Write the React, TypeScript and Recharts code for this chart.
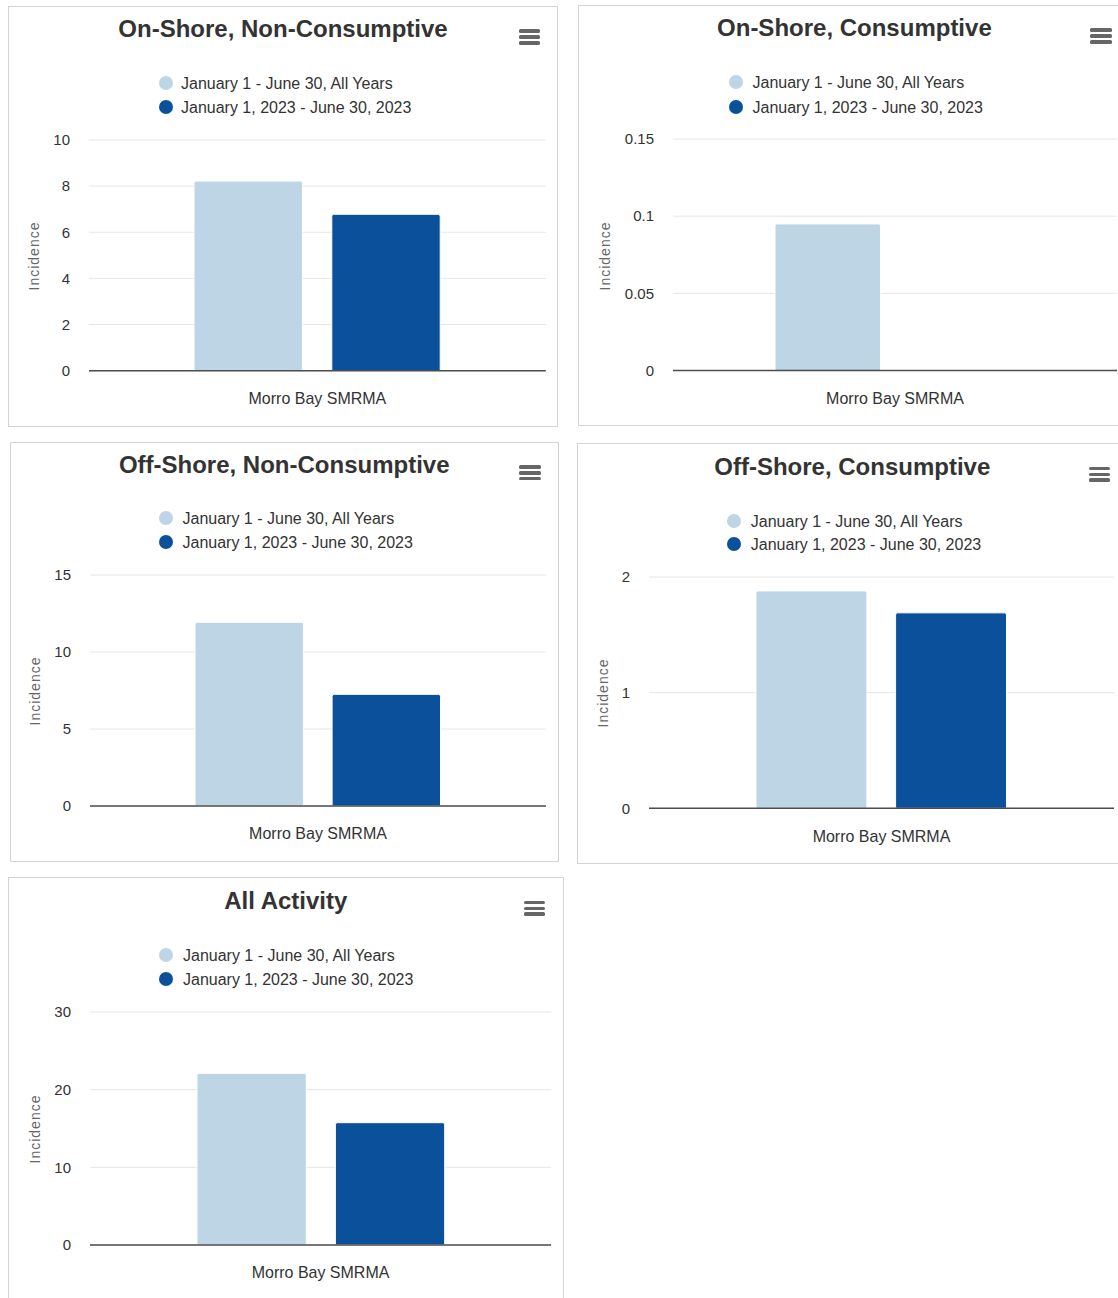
import React from 'react';
import { BarChart, Bar, XAxis, YAxis, CartesianGrid } from 'recharts';

// ---------- data ----------
const categories = ['Morro Bay SMRMA'];
const seriesNames = ['January 1 - June 30, All Years', 'January 1, 2023 - June 30, 2023'];

const titles = [
  'On-Shore, Non-Consumptive',
  'On-Shore, Consumptive',
  'Off-Shore, Non-Consumptive',
  'Off-Shore, Consumptive',
  'All Activity',
];

const onShoreNonConsAllYears = [8.22];
const onShoreNonCons2023 = [6.78];
const onShoreConsAllYears = [0.095];
const onShoreCons2023 = [0];
const offShoreNonConsAllYears = [11.93];
const offShoreNonCons2023 = [7.25];
const offShoreConsAllYears = [1.88];
const offShoreCons2023 = [1.69];
const allActivityAllYears = [22.1];
const allActivity2023 = [15.75];

const ticksOnShoreNonCons = [0, 2, 4, 6, 8, 10];
const ticksOnShoreCons = [0, 0.05, 0.1, 0.15];
const ticksOffShoreNonCons = [0, 5, 10, 15];
const ticksOffShoreCons = [0, 1, 2];
const ticksAllActivity = [0, 10, 20, 30];

const yAxisTitle = 'Incidence';

// ---------- styles / layout ----------
const FONT = '"Liberation Sans", Arial, Helvetica, sans-serif';
const LIGHT = '#BED5E5';
const DARK = '#0A509B';

type Layout = {
  box: { l: number; t: number; r: number; b: number };
  plot: { l: number; t: number; r: number; b: number };
  titleCx: number;
  titleBase: number;
  menu: { x: number; y: number };
  legend: { cx: number; y1: number; y2: number; tx: number };
  axisTitle: { x: number; y: number };
  barSize: number;
  barGap: number;
};

const layouts: Layout[] = [
  {
    box: { l: 8, t: 5.5, r: 558, b: 427 },
    plot: { l: 88.6, t: 140, r: 545.4, b: 370.7 },
    titleCx: 283, titleBase: 37.5,
    menu: { x: 518.6, y: 29.3 },
    legend: { cx: 165.5, y1: 83.3, y2: 107.3, tx: 181 },
    axisTitle: { x: 34, y: 256 },
    barSize: 108.4, barGap: 29.4,
  },
  {
    box: { l: 577.7, t: 4.7, r: 1130, b: 426 },
    plot: { l: 673, t: 138.5, r: 1117, b: 370 },
    titleCx: 854.4, titleBase: 36.7,
    menu: { x: 1090, y: 28.3 },
    legend: { cx: 735.7, y1: 82.3, y2: 106.5, tx: 752.5 },
    axisTitle: { x: 605, y: 255.7 },
    barSize: 105.6, barGap: 28,
  },
  {
    box: { l: 9.8, t: 441.7, r: 559.3, b: 862.3 },
    plot: { l: 90.2, t: 575, r: 546.2, b: 806 },
    titleCx: 284.2, titleBase: 473.3,
    menu: { x: 519.3, y: 465 },
    legend: { cx: 166.2, y1: 518.3, y2: 542.3, tx: 182.5 },
    axisTitle: { x: 35.3, y: 691.3 },
    barSize: 108.4, barGap: 28.7,
  },
  {
    box: { l: 577, t: 443.3, r: 1130, b: 864.3 },
    plot: { l: 649.4, t: 576.7, r: 1114.4, b: 808 },
    titleCx: 852.3, titleBase: 475,
    menu: { x: 1088.5, y: 466.7 },
    legend: { cx: 733.8, y1: 520.7, y2: 544.3, tx: 750.8 },
    axisTitle: { x: 603.2, y: 693.3 },
    barSize: 110.9, barGap: 28.7,
  },
  {
    box: { l: 8, t: 877.3, r: 563.6, b: 1320 },
    plot: { l: 89.8, t: 1012, r: 550.9, b: 1245 },
    titleCx: 285.8, titleBase: 909.3,
    menu: { x: 523.6, y: 900.7 },
    legend: { cx: 166.4, y1: 955, y2: 979, tx: 183 },
    axisTitle: { x: 34.9, y: 1129.3 },
    barSize: 109.3, barGap: 29.1,
  },
];

const panelSeries: [number[], number[]][] = [
  [onShoreNonConsAllYears, onShoreNonCons2023],
  [onShoreConsAllYears, onShoreCons2023],
  [offShoreNonConsAllYears, offShoreNonCons2023],
  [offShoreConsAllYears, offShoreCons2023],
  [allActivityAllYears, allActivity2023],
];
const panelTicks = [ticksOnShoreNonCons, ticksOnShoreCons, ticksOffShoreNonCons, ticksOffShoreCons, ticksAllActivity];

function textTop(baseline: number, fs: number) {
  return baseline - 0.8465 * fs;
}

function Panel({ idx }: { idx: number }) {
  const L = layouts[idx];
  const [a, b] = panelSeries[idx];
  const ticks = panelTicks[idx];
  const data = categories.map((c, i) => ({ name: c, allYears: a[i], y2023: b[i] }));
  const padL = 80;
  const padT = 20;
  const padR = 10;
  const xH = 50;
  const plotW = L.plot.r - L.plot.l;
  const plotH = L.plot.b - L.plot.t;
  const chartW = plotW + padL + padR;
  const chartH = plotH + padT + xH;
  const legendItems = [
    { name: seriesNames[0], color: LIGHT, y: L.legend.y1 },
    { name: seriesNames[1], color: DARK, y: L.legend.y2 },
  ];
  return (
    <>
      <div
        style={{
          position: 'absolute',
          left: L.box.l,
          top: L.box.t,
          width: L.box.r - L.box.l,
          height: L.box.b - L.box.t,
          border: '1px solid #d4d4d4',
          boxSizing: 'border-box',
          background: '#fff',
        }}
      />
      <div
        style={{
          position: 'absolute',
          left: L.titleCx - 300,
          width: 600,
          top: textTop(L.titleBase, 24),
          fontSize: 24,
          lineHeight: '24px',
          fontWeight: 700,
          color: '#333333',
          textAlign: 'center',
          fontFamily: FONT,
          whiteSpace: 'nowrap',
        }}
      >
        {titles[idx]}
      </div>
      {[0, 5.8, 11.6].map((dy) => (
        <div
          key={dy}
          style={{
            position: 'absolute',
            left: L.menu.x,
            top: L.menu.y + dy,
            width: 21.5,
            height: 3.8,
            borderRadius: 1.5,
            background: '#666666',
          }}
        />
      ))}
      {legendItems.map((it) => (
        <React.Fragment key={it.name}>
          <div
            style={{
              position: 'absolute',
              left: L.legend.cx - 7,
              top: it.y - 7,
              width: 14,
              height: 14,
              borderRadius: '50%',
              background: it.color,
            }}
          />
          <div
            style={{
              position: 'absolute',
              left: L.legend.tx,
              top: textTop(it.y + 6.6, 16),
              fontSize: 16,
              lineHeight: '16px',
              color: '#333333',
              fontFamily: FONT,
              whiteSpace: 'nowrap',
            }}
          >
            {it.name}
          </div>
        </React.Fragment>
      ))}
      <div
        style={{
          position: 'absolute',
          left: L.axisTitle.x - 60,
          top: L.axisTitle.y - 8,
          width: 120,
          height: 16,
          lineHeight: '16px',
          fontSize: 14,
          letterSpacing: 1,
          color: '#666666',
          textAlign: 'center',
          fontFamily: FONT,
          transform: 'rotate(-90deg)',
          whiteSpace: 'nowrap',
        }}
      >
        {yAxisTitle}
      </div>
      <div style={{ position: 'absolute', left: L.plot.l - padL, top: L.plot.t - padT }}>
        <BarChart
          width={chartW}
          height={chartH}
          data={data}
          margin={{ top: padT, right: padR, bottom: 0, left: 0 }}
          barGap={L.barGap}
          barSize={L.barSize}
        >
          <CartesianGrid horizontal vertical={false} stroke="#e6e6e6" strokeWidth={1} />
          <XAxis
            dataKey="name"
            height={xH}
            tickLine={false}
            tickSize={0}
            tickMargin={22}
            axisLine={{ stroke: '#4d4d4d', strokeWidth: 1.5 }}
            tick={{ fill: '#333333', fontSize: 16, fontFamily: FONT }}
          />
          <YAxis
            width={padL}
            domain={[ticks[0], ticks[ticks.length - 1]]}
            ticks={ticks}
            interval={0}
            axisLine={false}
            tickLine={false}
            tickSize={0}
            tickMargin={19}
            tick={{ fill: '#333333', fontSize: 15, fontFamily: FONT }}
          />
          <Bar dataKey="allYears" name={seriesNames[0]} fill={LIGHT} stroke="#ffffff" strokeWidth={1} radius={[2, 2, 0, 0]} isAnimationActive={false} />
          <Bar dataKey="y2023" name={seriesNames[1]} fill={DARK} stroke="#ffffff" strokeWidth={1} radius={[2, 2, 0, 0]} isAnimationActive={false} />
        </BarChart>
      </div>
    </>
  );
}

export default function App() {
  return (
    <div
      style={{
        position: 'absolute',
        left: 0,
        top: 0,
        width: 1118,
        height: 1298,
        overflow: 'hidden',
        background: '#ffffff',
        fontFamily: FONT,
      }}
    >
      {layouts.map((_, i) => (
        <Panel key={i} idx={i} />
      ))}
    </div>
  );
}
